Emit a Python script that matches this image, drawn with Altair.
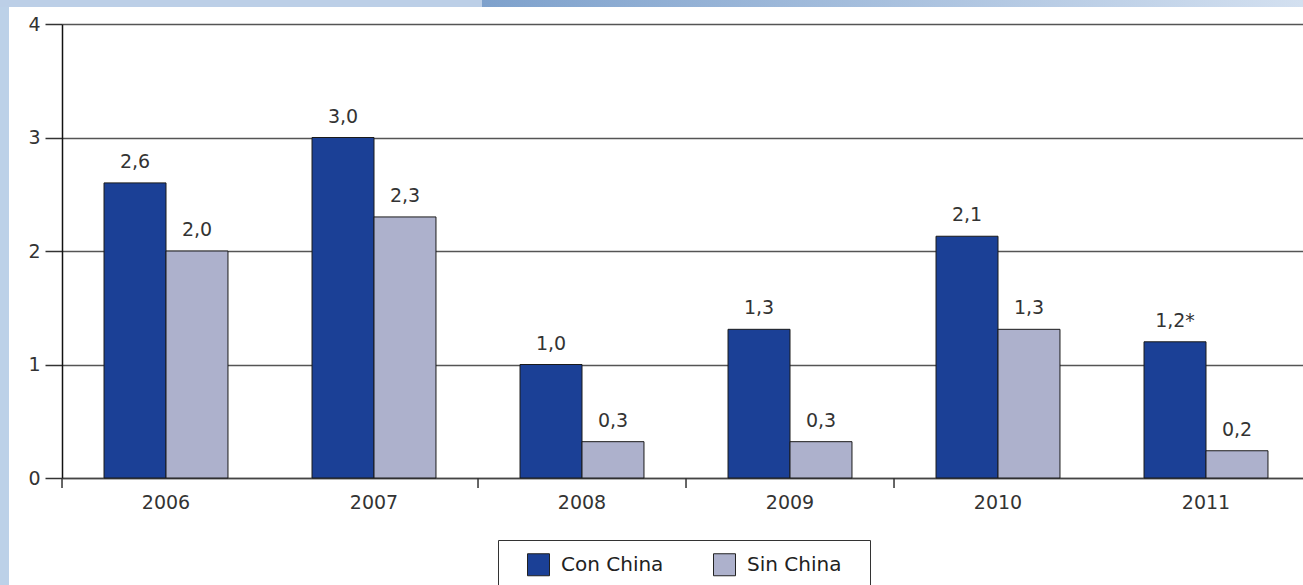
import altair as alt
import pandas as pd

years = ["2006", "2007", "2008", "2009", "2010", "2011"]
series_names = ["Con China", "Sin China"]
con_values = [2.6, 3.0, 1.0, 1.31, 2.13, 1.2]
sin_values = [2.0, 2.3, 0.32, 0.32, 1.31, 0.24]
con_labels = ["2,6", "3,0", "1,0", "1,3", "2,1", "1,2*"]
sin_labels = ["2,0", "2,3", "0,3", "0,3", "1,3", "0,2"]
y_ticks = [0, 1, 2, 3, 4]
tick_years = ["2006", "2008", "2009", "2010"]

rows = []
for i, yr in enumerate(years):
    rows.append({"year": yr, "series": series_names[0], "value": con_values[i], "label": con_labels[i]})
    rows.append({"year": yr, "series": series_names[1], "value": sin_values[i], "label": sin_labels[i]})
df = pd.DataFrame(rows)
tick_df = pd.DataFrame({"year": tick_years})

FONT = "DejaVu Sans"
x_scale = alt.Scale(range=[0, 1248], paddingInner=0.404, paddingOuter=0.202)

x_enc = alt.X(
    "year:N", title=None, sort=years, scale=x_scale,
    axis=alt.Axis(
        labelAngle=0, labelFont=FONT, labelFontSize=19, labelColor="#333",
        labelPadding=15, ticks=False,
        domainColor="#444", domainWidth=1.5, grid=False,
    ),
)
y_enc = alt.Y(
    "value:Q", title=None,
    scale=alt.Scale(domain=[0, 4], nice=False),
    axis=alt.Axis(
        values=y_ticks, format="d", labelFont=FONT, labelFontSize=19, labelColor="#333",
        labelPadding=5, tickSize=17, tickColor="#333", tickWidth=1.5,
        gridColor="#555", gridWidth=1.5, domainColor="#111", domainWidth=1.5,
    ),
)
xoff = alt.XOffset("series:N", sort=series_names)

color_enc = alt.Color(
    "series:N",
    scale=alt.Scale(domain=series_names, range=["#1b4096", "#adb1cc"]),
    legend=alt.Legend(
        title=None, orient="none", legendX=436, legendY=516, direction="horizontal",
        symbolType="square", symbolSize=484, symbolStrokeColor="#222", symbolStrokeWidth=1,
        symbolOffset=16,
        labelFont=FONT, labelFontSize=20, labelColor="#222", labelOffset=11,
        labelExpr="datum.label + '\u2800'",
        columnPadding=18, padding=13, strokeColor="#333", fillColor="white",
    ),
)

base = alt.Chart(df)
bars = base.mark_bar(stroke="#1a1a1a", strokeWidth=1).encode(
    x=x_enc, xOffset=xoff, y=y_enc, color=color_enc
)
texts = base.mark_text(dy=-15, baseline="alphabetic", font=FONT, fontSize=19, color="#333").encode(
    x=x_enc, xOffset=xoff, y="value:Q", text="label:N"
)
x_ticks = alt.Chart(tick_df).mark_rule(color="#333", strokeWidth=1.5, xOffset=-42).encode(
    x=alt.X("year:N", sort=years, scale=x_scale, bandPosition=0),
    y=alt.value(454), y2=alt.value(464),
)

deco_df = pd.DataFrame({"d": [0]})
left_strip = alt.Chart(deco_df).mark_rect(color="#bcd1e8").encode(
    x=alt.value(-62), x2=alt.value(-53), y=alt.value(-24), y2=alt.value(561)
)
top_left = alt.Chart(deco_df).mark_rect(color="#bccfe7").encode(
    x=alt.value(-62), x2=alt.value(420), y=alt.value(-24), y2=alt.value(-17)
)
grad = alt.Gradient(
    gradient="linear",
    stops=[alt.GradientStop(color="#7ea1cc", offset=0), alt.GradientStop(color="#d3e0f0", offset=1)],
    x1=0, x2=1, y1=0, y2=0,
)
top_right = alt.Chart(deco_df).mark_rect(color=grad).encode(
    x=alt.value(420), x2=alt.value(1241), y=alt.value(-24), y2=alt.value(-17)
)

chart = alt.layer(left_strip, top_left, top_right, bars, texts, x_ticks).properties(
    width=1241, height=454,
    autosize=alt.AutoSizeParams(type="none"),
    padding={"left": 62, "top": 24, "right": 0, "bottom": 107},
    background="white",
).configure_view(stroke=None)

chart.save("out.html", embed_options={"renderer": "svg", "actions": False})
